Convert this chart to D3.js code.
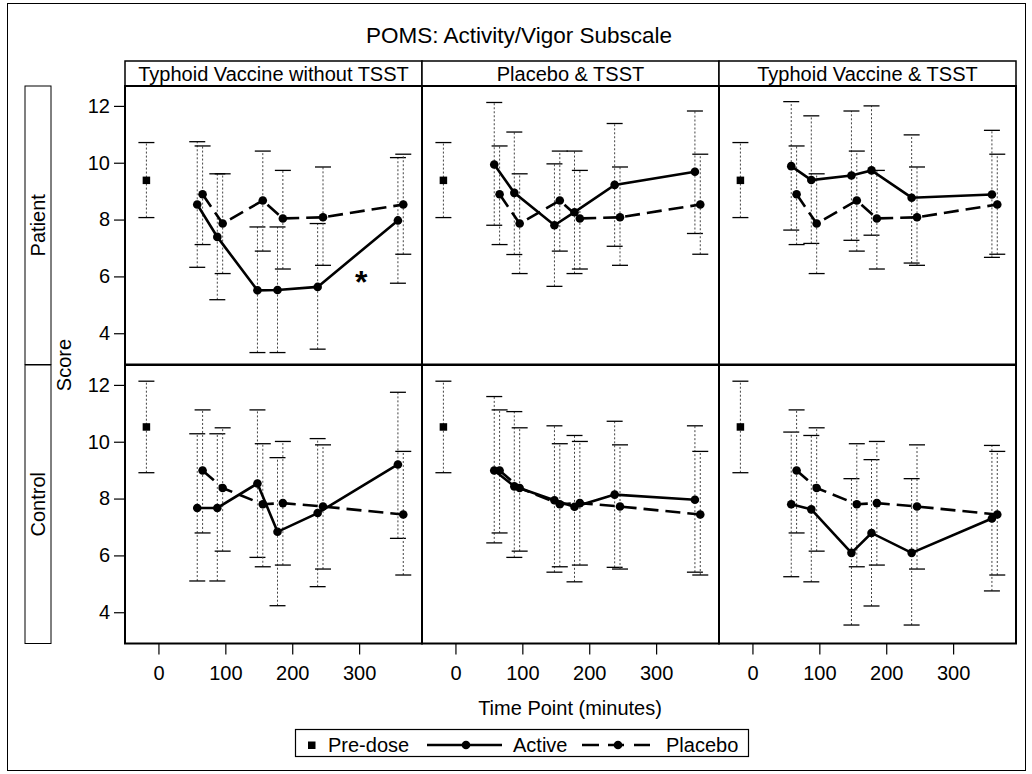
<!DOCTYPE html>
<html>
<head>
<meta charset="utf-8">
<script src="https://cdn.jsdelivr.net/npm/d3@7"></script>
<style>
  html, body { margin: 0; padding: 0; background: #fff; }
  svg { display: block; font-family: "Liberation Sans", Arial, sans-serif; }
</style>
</head>
<body>
<svg id="chart" width="1032" height="774"></svg>
<script>
// ---------------- DATA ----------------
const chartTitle = "POMS: Activity/Vigor Subscale";
const columns = ["Typhoid Vaccine without TSST", "Placebo & TSST", "Typhoid Vaccine & TSST"];
const rows = ["Patient", "Control"];
const xTicks = [0, 100, 200, 300];
const yTicks = [4, 6, 8, 10, 12];
const timePoints = [60, 90, 150, 180, 240, 360];
const preDoseTime = -18;

// Pre-dose (same in every column of a row), by row
const preDoseMean = [9.38, 10.52];
const preDoseLow  = [8.07, 8.91];
const preDoseHigh = [10.71, 12.13];

// Active group, by column, Patient row
const activePatientMean = [
  [8.53, 7.39, 5.51, 5.52, 5.63, 7.97],
  [9.94, 8.94, 7.80, 8.26, 9.22, 9.68],
  [9.88, 9.39, 9.55, 9.73, 8.77, 8.88]
];
const activePatientLow = [
  [6.32, 5.18, 3.32, 3.32, 3.44, 5.76],
  [7.80, 6.77, 5.65, 6.10, 7.06, 7.51],
  [7.63, 7.16, 7.27, 7.45, 6.47, 6.67]
];
const activePatientHigh = [
  [10.74, 9.61, 7.74, 7.74, 7.86, 10.18],
  [12.12, 11.08, 9.96, 10.41, 11.38, 11.82],
  [12.15, 11.65, 11.82, 12.00, 10.98, 11.14]
];
// Active group, by column, Control row
const activeControlMean = [
  [7.67, 7.67, 8.53, 6.83, 7.49, 9.20],
  [8.99, 8.43, 7.94, 7.71, 8.14, 7.96],
  [7.80, 7.62, 6.09, 6.79, 6.09, 7.30]
];
const activeControlLow = [
  [5.10, 5.10, 5.93, 4.23, 4.90, 6.60],
  [6.44, 5.93, 5.41, 5.07, 5.58, 5.41],
  [5.25, 5.07, 3.55, 4.22, 3.55, 4.75]
];
const activeControlHigh = [
  [10.28, 10.28, 11.12, 9.44, 10.11, 11.74],
  [11.59, 11.06, 10.56, 10.22, 10.72, 10.56],
  [10.34, 10.22, 8.70, 9.37, 8.70, 9.87]
];
// Placebo group (same in every column of a row)
const placeboPatientMean = [8.89, 7.86, 8.67, 8.04, 8.08, 8.53];
const placeboPatientLow  = [7.12, 6.10, 6.89, 6.26, 6.39, 6.78];
const placeboPatientHigh = [10.59, 9.61, 10.41, 9.73, 9.85, 10.30];
const placeboControlMean = [8.99, 8.37, 7.80, 7.84, 7.72, 7.44];
const placeboControlLow  = [6.79, 6.15, 5.60, 5.66, 5.52, 5.31];
const placeboControlHigh = [11.12, 10.49, 9.93, 10.01, 9.89, 9.66];

// Significance marker
const annotations = [{ row: 0, col: 0, time: 303, score: 6.06, text: "*" }];

// ---------------- LAYOUT ----------------
const svg = d3.select("#chart");
const colX = [125, 422, 719];
const panelW = 297;
const rowY = [86, 365];
const panelH = 278.5;
const FS = 20;
const activeOffset = -2, placeboOffset = 6;

const x = d3.scaleLinear().domain([-50, 394]).range([0, panelW]);
const y = d3.scaleLinear().domain([2.9, 12.7]).range([panelH, 0]);

const activeMean = [activePatientMean, activeControlMean];
const activeLow = [activePatientLow, activeControlLow];
const activeHigh = [activePatientHigh, activeControlHigh];
const placeboMean = [placeboPatientMean, placeboControlMean];
const placeboLow = [placeboPatientLow, placeboControlLow];
const placeboHigh = [placeboPatientHigh, placeboControlHigh];

// outer frame
svg.append("rect").attr("x", 7.5).attr("y", 3.5).attr("width", 1018).attr("height", 767)
  .attr("fill", "none").attr("stroke", "#000").attr("stroke-width", 1);

// title
svg.append("text").attr("x", 519).attr("y", 43).attr("text-anchor", "middle")
  .attr("font-size", 22.5).attr("fill", "#000").text(chartTitle);

// column headers
columns.forEach((c, ci) => {
  svg.append("rect").attr("x", colX[ci]).attr("y", 61).attr("width", panelW).attr("height", 25)
    .attr("fill", "#fff").attr("stroke", "#000").attr("stroke-width", 1.5);
  svg.append("text").attr("x", colX[ci] + panelW / 2).attr("y", 80.5).attr("text-anchor", "middle")
    .attr("font-size", FS).attr("fill", "#000").text(c);
});

// row headers
rows.forEach((r, ri) => {
  svg.append("rect").attr("x", 25).attr("y", rowY[ri]).attr("width", 26).attr("height", panelH)
    .attr("fill", "#fff").attr("stroke", "#000").attr("stroke-width", 1);
  svg.append("text").attr("transform", `translate(45,${rowY[ri] + panelH / 2}) rotate(-90)`)
    .attr("text-anchor", "middle").attr("font-size", FS).attr("fill", "#000").text(r);
});

// y axis title
svg.append("text").attr("transform", "translate(70.5,365) rotate(-90)")
  .attr("text-anchor", "middle").attr("font-size", FS).attr("fill", "#000").text("Score");

// x axis title
svg.append("text").attr("x", 570).attr("y", 715).attr("text-anchor", "middle")
  .attr("font-size", FS).attr("fill", "#000").text("Time Point (minutes)");

function errorBar(g, tx, lo, hi) {
  g.append("line").attr("x1", x(tx)).attr("x2", x(tx)).attr("y1", y(lo)).attr("y2", y(hi))
    .attr("stroke", "#444").attr("stroke-width", 1).attr("stroke-dasharray", "2,2");
  [lo, hi].forEach(v => {
    g.append("line").attr("x1", x(tx) - 8).attr("x2", x(tx) + 8).attr("y1", y(v)).attr("y2", y(v))
      .attr("stroke", "#000").attr("stroke-width", 1.3);
  });
}

const line = d3.line().x(d => x(d[0])).y(d => y(d[1]));

rows.forEach((r, ri) => {
  columns.forEach((c, ci) => {
    const g = svg.append("g").attr("transform", `translate(${colX[ci]},${rowY[ri]})`);
    const clip = g.append("g");

    // y axis on first column
    if (ci === 0) {
      const ax = g.append("g").call(d3.axisLeft(y).tickValues(yTicks).tickSize(11).tickPadding(4).tickFormat(d3.format("d")));
      ax.select(".domain").remove();
      ax.selectAll("line").attr("stroke", "#000").attr("stroke-width", 1.2);
      ax.selectAll("text").attr("font-size", FS).attr("font-family", "'Liberation Sans', Arial, sans-serif").attr("fill", "#000");
    }
    // x axis on bottom row
    if (ri === rows.length - 1) {
      const ax = g.append("g").attr("transform", `translate(0,${panelH})`)
        .call(d3.axisBottom(x).tickValues(xTicks).tickSize(11).tickPadding(11).tickFormat(d3.format("d")));
      ax.select(".domain").remove();
      ax.selectAll("line").attr("stroke", "#000").attr("stroke-width", 1.2);
      ax.selectAll("text").attr("font-size", FS).attr("font-family", "'Liberation Sans', Arial, sans-serif").attr("fill", "#000");
    }

    // error bars
    errorBar(clip, preDoseTime, preDoseLow[ri], preDoseHigh[ri]);
    timePoints.forEach((t, i) => {
      errorBar(clip, t + activeOffset, activeLow[ri][ci][i], activeHigh[ri][ci][i]);
      errorBar(clip, t + placeboOffset, placeboLow[ri][i], placeboHigh[ri][i]);
    });

    // lines
    const aPts = timePoints.map((t, i) => [t + activeOffset, activeMean[ri][ci][i]]);
    const pPts = timePoints.map((t, i) => [t + placeboOffset, placeboMean[ri][i]]);
    clip.append("path").attr("d", line(pPts)).attr("fill", "none").attr("stroke", "#000")
      .attr("stroke-width", 2.6).attr("stroke-dasharray", "15,7");
    clip.append("path").attr("d", line(aPts)).attr("fill", "none").attr("stroke", "#000")
      .attr("stroke-width", 2.6);

    // markers
    clip.selectAll(".pm").data(pPts).enter().append("circle")
      .attr("cx", d => x(d[0])).attr("cy", d => y(d[1])).attr("r", 4.3).attr("fill", "#000");
    clip.selectAll(".am").data(aPts).enter().append("circle")
      .attr("cx", d => x(d[0])).attr("cy", d => y(d[1])).attr("r", 4.3).attr("fill", "#000");
    clip.append("rect").attr("x", x(preDoseTime) - 3.75).attr("y", y(preDoseMean[ri]) - 3.75)
      .attr("width", 7.5).attr("height", 7.5).attr("fill", "#000");

    // annotations
    annotations.filter(a => a.row === ri && a.col === ci).forEach(a => {
      g.append("text").attr("x", x(a.time)).attr("y", y(a.score) + 18).attr("text-anchor", "middle")
        .attr("font-size", 32).attr("font-weight", "bold").attr("fill", "#000").text(a.text);
    });

    // panel border
    g.append("rect").attr("x", 0).attr("y", 0).attr("width", panelW).attr("height", panelH)
      .attr("fill", "none").attr("stroke", "#000").attr("stroke-width", 2);
  });
});

// legend
const lg = svg.append("g");
lg.append("rect").attr("x", 295.5).attr("y", 729.5).attr("width", 453).attr("height", 27)
  .attr("fill", "#fff").attr("stroke", "#000").attr("stroke-width", 1.2);
lg.append("rect").attr("x", 308).attr("y", 741.5).attr("width", 7.5).attr("height", 7.5).attr("fill", "#000");
lg.append("text").attr("x", 328).attr("y", 752).attr("font-size", FS).attr("fill", "#000").text("Pre-dose");
lg.append("line").attr("x1", 427).attr("x2", 502).attr("y1", 745).attr("y2", 745)
  .attr("stroke", "#000").attr("stroke-width", 2.6);
lg.append("circle").attr("cx", 466).attr("cy", 745).attr("r", 4.3).attr("fill", "#000");
lg.append("text").attr("x", 513).attr("y", 752).attr("font-size", FS).attr("fill", "#000").text("Active");
lg.append("line").attr("x1", 582).attr("x2", 650).attr("y1", 745).attr("y2", 745)
  .attr("stroke", "#000").attr("stroke-width", 2.6).attr("stroke-dasharray", "17,9,16,10,16");
lg.append("circle").attr("cx", 618).attr("cy", 745).attr("r", 4.3).attr("fill", "#000");
lg.append("text").attr("x", 666).attr("y", 752).attr("font-size", FS).attr("fill", "#000").text("Placebo");
</script>
</body>
</html>
